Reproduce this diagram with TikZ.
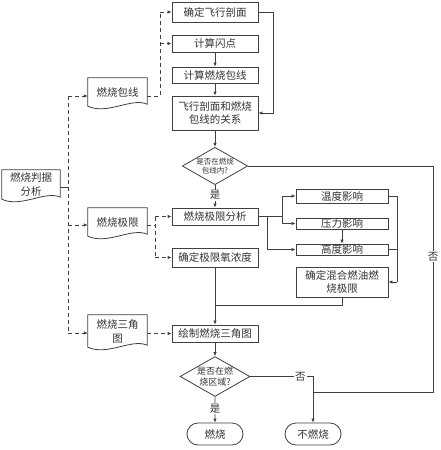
\documentclass[tikz,border=0pt]{standalone}
\usepackage{fontspec}
\setmainfont{Noto Sans CJK SC}
\usetikzlibrary{shapes.geometric,shapes.misc,calc,arrows.meta}
\begin{document}
\begin{tikzpicture}[x=1pt,y=-1pt,
  ink/.style={draw=black!75, line width=0.8pt},
  box/.style={ink, rectangle, inner sep=0pt, align=center, font=\fontsize{10.5}{13}\selectfont, text=black!80},
  doc/.style={rectangle, inner sep=0pt, align=center, font=\fontsize{10.5}{14}\selectfont, text=black!80},
  dia/.style={ink, diamond, aspect=1.75, inner sep=0pt, minimum width=56pt, minimum height=32pt, align=center, font=\fontsize{7.5}{9}\selectfont, text=black!80},
  term/.style={ink, rounded rectangle, inner sep=0pt, minimum width=56pt, minimum height=22pt, font=\fontsize{10.5}{13}\selectfont, text=black!80},
  arr/.style={ink, -{Latex[length=4pt,width=3.5pt]}},
  dln/.style={ink, dashed, dash pattern=on 4pt off 3pt},
  darr/.style={dln, -{Latex[length=4pt,width=3.5pt]}},
  lab/.style={font=\fontsize{10.5}{12}\selectfont, text=black!80, fill=white, inner sep=1pt}
]
\useasboundingbox (0,0) rectangle (440,450);
\fill[white] (0,0) rectangle (440,450);
\newcommand\docsh[1]{\draw[ink] (#1.north west) -- (#1.north east) -- ([yshift=2]#1.south east) .. controls ([xshift=14,yshift=9]#1.south) and ([xshift=-10,yshift=-9]#1.south) .. ([yshift=0]#1.south west) -- cycle;}

% main column
\node[box, minimum width=86pt, minimum height=20pt] (fp) at (215,12) {确定飞行剖面};
\node[box, minimum width=86pt, minimum height=17pt] (sd) at (215,43.5) {计算闪点};
\node[box, minimum width=86pt, minimum height=16pt] (bx) at (215,75) {计算燃烧包线};
\node[box, minimum width=86pt, minimum height=34pt] (gx) at (215,113) {飞行剖面和燃烧\\包线的关系};
\node[dia] (q1) at (215,166) {是否在燃烧\\包线内?};
\node[box, minimum width=86pt, minimum height=17pt] (jx) at (215,216.5) {燃烧极限分析};
\node[box, minimum width=86pt, minimum height=19pt] (yq) at (215,257.5) {确定极限氧浓度};
\node[box, minimum width=92pt, minimum height=14pt] (wd) at (342,196) {温度影响};
\node[box, minimum width=92pt, minimum height=11pt] (yl) at (342,223.5) {压力影响};
\node[box, minimum width=92pt, minimum height=11pt] (gd) at (342,249.5) {高度影响};
\node[box, minimum width=92pt, minimum height=30pt] (hh) at (342,282) {确定混合燃油燃\\烧极限};
\node[box, minimum width=86pt, minimum height=17pt] (sj) at (215,333.5) {绘制燃烧三角图};
\node[dia, font=\fontsize{9}{11}\selectfont] (q2) at (215,376.5) {是否在燃\\烧区域?};
\node[term] (rs) at (215,434) {燃烧};
\node[term] (bs) at (313,434) {不燃烧};

% left documents
\node[doc, minimum width=58pt, minimum height=29pt] (jd) at (31,184.5) {燃烧判据\\分析};
\docsh{jd}
\node[doc, minimum width=59pt, minimum height=28pt] (d1) at (117.5,92) {燃烧包线};
\docsh{d1}
\node[doc, minimum width=59pt, minimum height=28pt] (d2) at (117.5,222) {燃烧极限};
\docsh{d2}
\node[doc, minimum width=59pt, minimum height=32pt] (d3) at (117.5,331) {燃烧三角\\图};
\docsh{d3}

% dashed connectors
\coordinate (vt) at (68,96);
\coordinate (vb) at (68,333);
\draw[ink] (jd.east |- 0,187) -- (68,187);
\draw[dln] (vt) -- (vb);
\draw[darr] (vt) -- (d1.west |- vt);
\draw[darr] (68,225) -- (d2.west |- 0,225);
\draw[darr] (vb) -- (d3.west |- vb);
\draw[dln] (d1.east |- 0,96) -- (160,96) -- (160,12);
\draw[darr] (160,12) -- (fp.west);
\draw[darr] (160,43.5) -- (sd.west);
\draw[dln] (d2.east |- 0,225) -- (155,225);
\draw[dln] (155,216.5) -- (155,257.5);
\draw[darr] (155,216.5) -- (jx.west);
\draw[darr] (155,257.5) -- (yq.west);
\draw[darr] (d3.east |- 0,333.5) -- (sj.west);

% solid connectors
\draw[arr] (fp.east) -- (273,12) -- (273,113) -- (gx.east);
\draw[arr] (sd) -- (bx);
\draw[arr] (bx) -- (gx);
\draw[arr] (gx) -- (q1);
\draw[arr] (q1) -- node[lab, pos=0.45] {是} (jx);
\draw[ink] (jx.east) -- (282,216.5);
\draw[arr] (282,196) -- (282,223.5) -- (yl.west);
\draw[arr] (282,196) -- (wd.west);
\draw[arr] (267,216.5) -- (267,249.5) -- (gd.west);
\draw[arr] (yl) -- (gd);
\draw[ink] (wd.east) -- (397,196) -- (397,282);
\draw[ink] (gd.east) -- (397,249.5);
\draw[arr] (397,282) -- (hh.east);
\draw[ink] (hh.south) -- (342,305) -- (215,305);
\draw[arr] (yq) -- (sj);
\draw[arr] (sj) -- (q2);
\draw[arr] (q2) -- node[lab, pos=0.45] {是} (rs);
\draw[arr] (q2.east) -- node[lab, pos=0.8] {否} (313,376.5) -- (bs.north);
\draw[ink] (q1.east) -- (433,166) -- node[lab, pos=0.4] {否} (433,392) -- (313,392);
\end{tikzpicture}
\end{document}
